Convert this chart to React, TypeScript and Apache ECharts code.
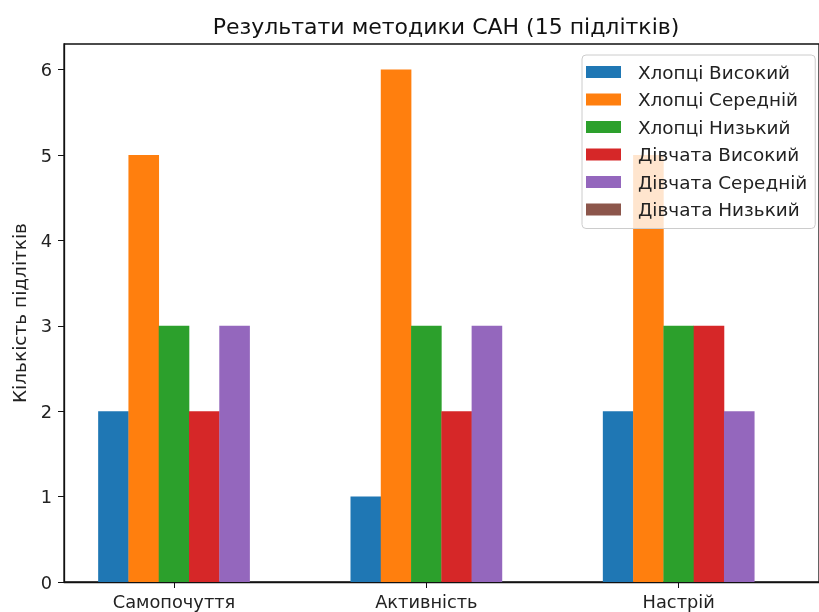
import React, { useEffect, useRef } from "react";
import * as echarts from "echarts";

const title = "Результати методики САН (15 підлітків)";
const yAxisTitle = "Кількість підлітків";
const categories = ["Самопочуття", "Активність", "Настрій"];
const seriesNames = [
  "Хлопці Високий",
  "Хлопці Середній",
  "Хлопці Низький",
  "Дівчата Високий",
  "Дівчата Середній",
  "Дівчата Низький",
];
const boysHigh = [2, 1, 2];
const boysMid = [5, 6, 5];
const boysLow = [3, 3, 3];
const girlsHigh = [2, 2, 3];
const girlsMid = [3, 3, 2];
const girlsLow = [0, 0, 0];
const yTicks = [0, 1, 2, 3, 4, 5, 6];

const seriesValues = [boysHigh, boysMid, boysLow, girlsHigh, girlsMid, girlsLow];
const colors = ["#1f77b4", "#ff7f0e", "#2ca02c", "#d62728", "#9467bd", "#8c564b"];
const BAR_W = 0.12;
const FONT = "DejaVu Sans";

export default function App() {
  const ref = useRef<HTMLDivElement>(null);
  useEffect(() => {
    if (!ref.current) return;
    const chart = echarts.init(ref.current, undefined, { renderer: "svg" });
    const series = seriesValues.map((vals, i) => ({
      type: "bar",
      name: seriesNames[i],
      barWidth: 30.6,
      barGap: "-100%",
      itemStyle: { color: colors[i] },
      data: vals.map((v, j) => [j + (i - 2) * BAR_W, v]),
    }));
    chart.setOption({
      animation: false,
      textStyle: { fontFamily: FONT },
      graphic: [
        {
          type: "text",
          x: 446,
          y: 26,
          style: {
            text: title,
            fontSize: 22,
            fontFamily: FONT,
            fill: "#111",
            textAlign: "center",
            textVerticalAlign: "middle",
          },
        },
      ],
      grid: {
        left: 64,
        top: 44,
        width: 762,
        height: 538,
        show: true,
        borderColor: "#111",
        borderWidth: 1.3,
        backgroundColor: "transparent",
      },
      legend: {
        orient: "vertical",
        left: 582,
        top: 55,
        data: seriesNames,
        icon: "rect",
        itemWidth: 35,
        itemHeight: 12,
        itemGap: 7.5,
        padding: [7, 8, 9, 4],
        backgroundColor: "rgba(255,255,255,0.8)",
        borderColor: "#cccccc",
        borderWidth: 1,
        borderRadius: 4,
        textStyle: {
          fontFamily: FONT,
          fontSize: 18.4,
          lineHeight: 20,
          color: "#222",
          padding: [0, 0, 0, 12],
        },
      },
      xAxis: {
        type: "value",
        min: -0.436,
        max: 2.556,
        splitLine: { show: false },
        axisLine: { show: true, onZero: false, lineStyle: { color: "#111", width: 1.3 } },
        axisTick: {
          show: true,
          length: 6,
          customValues: [0, 1, 2],
          lineStyle: { color: "#111" },
        },
        axisLabel: {
          customValues: [0, 1, 2],
          formatter: (v: number) => categories[Math.round(v)] ?? "",
          fontFamily: FONT,
          fontSize: 17.8,
          color: "#222",
          margin: 10,
        },
      },
      yAxis: {
        type: "value",
        min: 0,
        max: 6.3,
        name: yAxisTitle,
        nameLocation: "middle",
        nameGap: 35,
        nameTextStyle: { fontFamily: FONT, fontSize: 18.5, color: "#222" },
        splitLine: { show: false },
        axisLine: { show: true, onZero: false, lineStyle: { color: "#111", width: 1.3 } },
        axisTick: {
          show: true,
          length: 6,
          customValues: yTicks,
          lineStyle: { color: "#111" },
        },
        axisLabel: {
          customValues: yTicks,
          fontFamily: FONT,
          fontSize: 17.8,
          color: "#222",
          margin: 12,
        },
      },
      series,
    });
    return () => chart.dispose();
  }, []);
  return (
    <div
      ref={ref}
      style={{ position: "fixed", left: 0, top: 0, width: 819, height: 612 }}
    />
  );
}
